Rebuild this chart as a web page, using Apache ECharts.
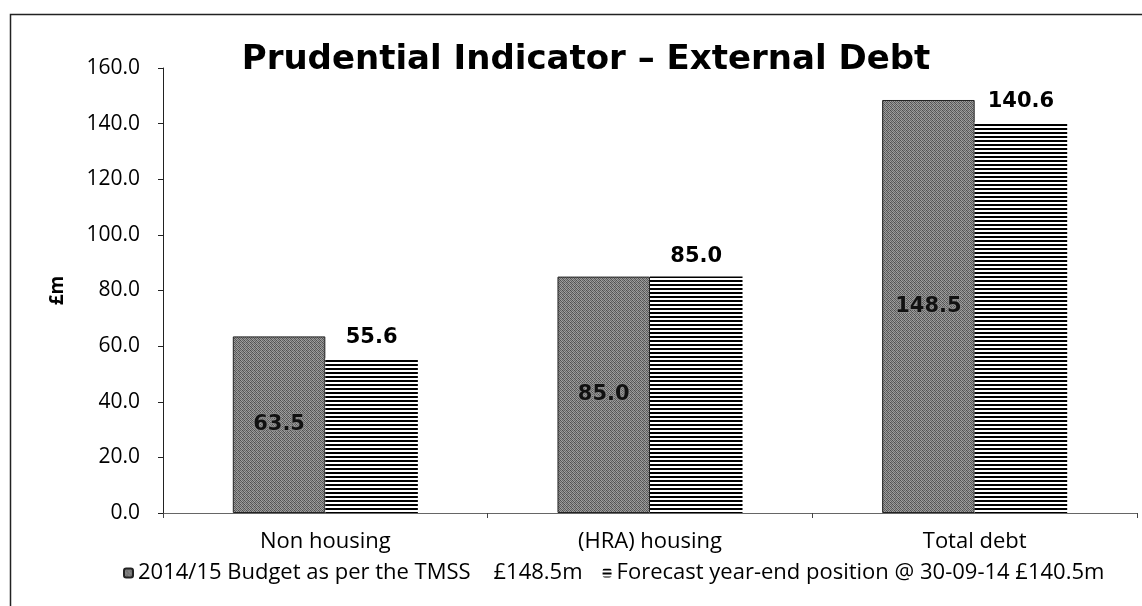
<!DOCTYPE html>
<html>
<head>
<meta charset="utf-8">
<script src="https://cdn.jsdelivr.net/npm/echarts@6/dist/echarts.min.js"></script>
<style>
    html, body { margin: 0; padding: 0; background: #fff; }
    #chart { width: 1142px; height: 606px; }
</style>
</head>
<body>
<div id="chart"></div>
<script>
const categories = ['Non housing', '(HRA) housing', 'Total debt']
const seriesNames = ['2014/15 Budget as per the TMSS    £148.5m', 'Forecast year-end position @ 30-09-14 £140.5m']
const budget = [63.5, 85.0, 148.5]
const forecast = [55.6, 85.0, 140.6]

// grey dithered texture for the budget bars
const makeGrey = () => {
    const c = document.createElement('canvas')
    c.width = 4
    c.height = 4
    const ctx = c.getContext('2d')
    const shades = [
        ['#505050', '#a0a0a0', '#686868', '#949494'],
        ['#989898', '#5a5a5a', '#a4a4a4', '#606060'],
        ['#646464', '#9c9c9c', '#4e4e4e', '#909090'],
        ['#a2a2a2', '#6c6c6c', '#969696', '#565656']
    ]
    for (let y = 0; y < 4; y++) {
        for (let x = 0; x < 4; x++) {
            ctx.fillStyle = shades[y][x]
            ctx.fillRect(x, y, 1, 1)
        }
    }
    return c
}

// horizontal black stripes for the forecast bars
const makeStripes = () => {
    const c = document.createElement('canvas')
    c.width = 8
    c.height = 4
    const ctx = c.getContext('2d')
    ctx.fillStyle = '#fff'
    ctx.fillRect(0, 0, 8, 4)
    ctx.fillStyle = '#000'
    ctx.fillRect(0, 0, 8, 2)
    return c
}

const chart = echarts.init(document.getElementById('chart'))
const textFont = 'Open Sans'
const labelFont = 'DejaVu Sans'

chart.setOption({
    animation: false,
    title: {
        text: 'Prudential Indicator \u2013 External Debt',
        left: 581,
        textAlign: 'center',
        top: 38,
        textStyle: {
            fontFamily: 'DejaVu Sans',
            fontSize: 34,
            fontWeight: 'bold',
            color: '#000'
        }
    },
    graphic: [
        {
            type: 'rect',
            shape: { x: 10.5, y: 14.5, width: 1140, height: 600 },
            style: { fill: 'none', stroke: '#222', lineWidth: 1.5 },
            silent: true
        }
    ],
    legend: {
        bottom: 17,
        left: 118,
        itemWidth: 9,
        itemHeight: 9,
        itemGap: 20,
        textStyle: {
            fontFamily: textFont,
            fontSize: 22,
            color: '#000'
        },
        data: seriesNames
    },
    grid: {
        left: 163,
        right: 5,
        top: 68,
        bottom: 93
    },
    xAxis: {
        type: 'category',
        data: categories,
        axisLine: { lineStyle: { color: '#666', width: 1 } },
        axisTick: { show: true, alignWithLabel: false, length: 5, lineStyle: { color: '#444' } },
        axisLabel: {
            fontFamily: textFont,
            fontSize: 22,
            color: '#000',
            margin: 18
        }
    },
    yAxis: {
        type: 'value',
        min: 0,
        max: 160,
        interval: 20,
        name: '£m',
        nameLocation: 'middle',
        nameGap: 96,
        nameRotate: 90,
        nameTextStyle: {
            fontFamily: textFont,
            fontSize: 19,
            fontWeight: 'bold',
            color: '#000'
        },
        axisLine: { show: true, lineStyle: { color: '#222', width: 1 } },
        axisTick: { show: true, length: 5, lineStyle: { color: '#222' } },
        splitLine: { show: false },
        axisLabel: {
            fontFamily: textFont,
            fontSize: 21,
            color: '#000',
            margin: 23,
            formatter: v => v.toFixed(1)
        }
    },
    series: [
        {
            name: seriesNames[0],
            type: 'bar',
            data: budget,
            barGap: '0%',
            barCategoryGap: '43%',
            itemStyle: {
                color: { image: makeGrey(), repeat: 'repeat' },
                borderColor: '#222',
                borderWidth: 1
            },
            label: {
                show: true,
                position: 'inside',
                formatter: p => p.value.toFixed(1),
                fontFamily: labelFont,
                fontSize: 21,
                fontWeight: 'bold',
                color: '#111',
                textBorderColor: '#888',
                textBorderWidth: 2
            }
        },
        {
            name: seriesNames[1],
            type: 'bar',
            data: forecast,
            itemStyle: {
                color: { image: makeStripes(), repeat: 'repeat' }
            },
            label: {
                show: true,
                position: 'top',
                distance: 10,
                formatter: p => p.value.toFixed(1),
                fontFamily: labelFont,
                fontSize: 21,
                fontWeight: 'bold',
                color: '#000'
            }
        }
    ]
})
</script>
</body>
</html>
